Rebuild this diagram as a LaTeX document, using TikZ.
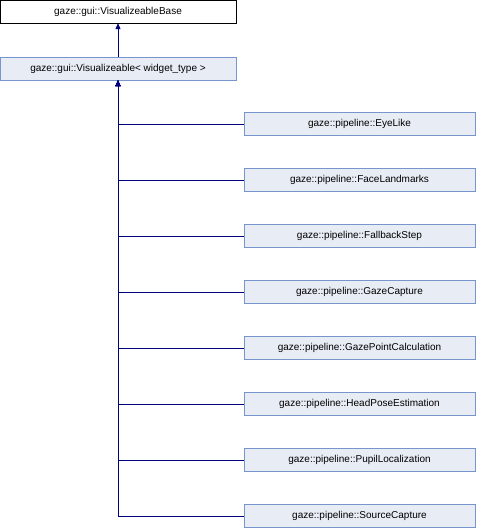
\documentclass[tikz,border=0pt]{standalone}
\usepackage{fontspec}
\setmainfont{Liberation Sans}
\usetikzlibrary{arrows.meta}

\definecolor{boxfill}{RGB}{232,236,245}
\definecolor{boxline}{RGB}{120,150,205}
\definecolor{edgeblue}{RGB}{0,0,128}

\begin{document}
\begin{tikzpicture}[x=1pt,y=-1pt,
    every node/.style={font=\fontsize{10}{12}\selectfont,inner sep=0pt},
    basebox/.style={draw=black,fill=white,minimum width=236pt,minimum height=23pt},
    classbox/.style={draw=boxline,fill=boxfill,minimum width=236pt,minimum height=23pt},
    childbox/.style={draw=boxline,fill=boxfill,minimum width=231pt,minimum height=23pt},
    inherit/.style={edgeblue,line width=0.8pt,-{Triangle[length=6pt,width=5pt]}}
]
    \useasboundingbox (0,0) rectangle (478,528);
    \node[basebox] (base) at (118,11.5) {gaze::gui::VisualizeableBase};
    \node[classbox] (vis) at (118,68.5) {gaze::gui::Visualizeable< widget\_type >};
    \draw[inherit] (vis) -- (base);
    % derived pipeline steps
    \foreach \cls [count=\i from 0] in {EyeLike,FaceLandmarks,FallbackStep,GazeCapture,%
            GazePointCalculation,HeadPoseEstimation,PupilLocalization,SourceCapture} {
        \node[childbox] (step\i) at (359.5,124+56*\i) {gaze::pipeline::\cls};
        \draw[inherit] (step\i.west) -| (vis.south);
    }
\end{tikzpicture}
\end{document}
